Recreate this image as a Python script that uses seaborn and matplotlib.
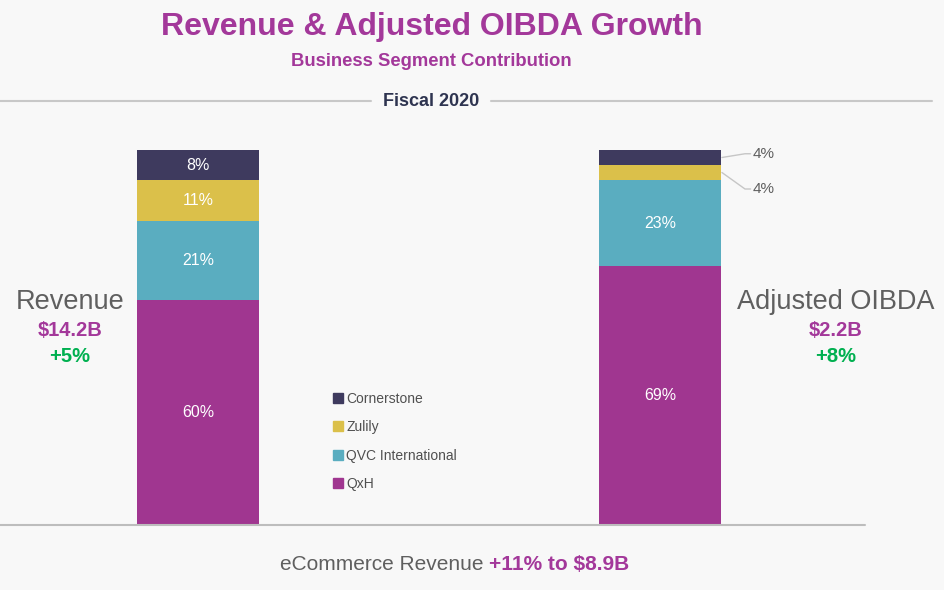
import numpy as np
import pandas as pd
import matplotlib.pyplot as plt
import seaborn as sns
from matplotlib.patches import Patch
from matplotlib.lines import Line2D

# data
bars = ["Revenue", "Adjusted OIBDA"]
segments = ["QxH", "QVC International", "Zulily", "Cornerstone"]
revenue_pct = [60, 21, 11, 8]
oibda_pct = [69, 23, 4, 4]
totals = ["$14.2B", "$2.2B"]
growth = ["+5%", "+8%"]
seg_colors = ["#A03690", "#5AADC0", "#DBC04A", "#3E3A5E"]

purple = "#A3389A"
green = "#00B050"
gray = "#5F5F5F"
bg = "#F8F8F8"

sns.set_style("white")
plt.rcParams["font.family"] = ["Liberation Sans", "DejaVu Sans"]

W, H = 945, 590
fig = plt.figure(figsize=(9.45, 5.9), dpi=100, facecolor=bg)

def fx(px):
    return px / W

def fy(py):
    return 1 - py / H

# axes: bottom at baseline, top at 100%
ax = fig.add_axes([0, fy(525), fx(865), (525 - 150) / H])
ax.set_facecolor(bg)

df = pd.DataFrame({"bar": np.repeat(bars, len(segments)),
                   "segment": segments * 2,
                   "pct": revenue_pct + oibda_pct})
df["cum"] = df.groupby("bar")["pct"].cumsum()

# draw cumulative bars from the top segment down so they stack
bw = 122 / 462
for seg, col in reversed(list(zip(segments, seg_colors))):
    d = df[df["segment"] == seg]
    sns.barplot(data=d, x="bar", y="cum", order=bars, color=col,
                width=bw, saturation=1, ax=ax, linewidth=0)

ax.set_xlim(-198 / 462, (865 - 198) / 462)
ax.set_ylim(0, 100)
ax.set_xlabel("")
ax.set_ylabel("")
ax.set_xticks([])
ax.set_yticks([])
for s in ax.spines.values():
    s.set_visible(False)
ax.axhline(0, color="#BDBDBD", lw=1.5, clip_on=False)

# segment labels
for i, b in enumerate(bars):
    d = df[df["bar"] == b]
    for _, r in d.iterrows():
        yc = r["cum"] - r["pct"] / 2
        if r["pct"] >= 6:
            ax.text(i, yc, f"{r['pct']}%", ha="center", va="center",
                    color="white", fontsize=11.5)

# outside labels for the small OIBDA segments
d = df[df["bar"] == "Adjusted OIBDA"]
small = d[d["pct"] < 6]
edge = 1 + bw / 2
targets = [99.0, 89.6]
for (_, r), ty in zip(small.iloc[::-1].iterrows(), targets):
    yc = r["cum"] - r["pct"] / 2
    ax.plot([edge + 0.002, 1.184, 1.196], [yc, ty, ty], color="#C6C6C6",
            lw=1, clip_on=False)
    ax.text(1.200, ty, f"{r['pct']}%", ha="left", va="center",
            color=gray, fontsize=11)

# side annotations
side_x = [70, 836]
for i in range(2):
    fig.text(fx(side_x[i]), fy(302), bars[i], ha="center", va="center",
             color=gray, fontsize=19.5)
    fig.text(fx(side_x[i]), fy(330), totals[i], ha="center", va="center",
             color=purple, fontsize=14.5, fontweight="bold")
    fig.text(fx(side_x[i]), fy(356), growth[i], ha="center", va="center",
             color=green, fontsize=14.5, fontweight="bold")

# legend
handles = [Patch(color=c, label=s) for s, c in zip(segments, seg_colors)][::-1]
leg = fig.legend(handles=handles, loc="upper left",
                 bbox_to_anchor=(fx(326), fy(385)), frameon=False,
                 fontsize=10, handlelength=0.75, handleheight=0.75,
                 handletextpad=0.2, labelspacing=1.03, borderpad=0)
for t in leg.get_texts():
    t.set_color("#505050")

# titles
fig.text(fx(432), fy(27), "Revenue & Adjusted OIBDA Growth", ha="center",
         va="center", color=purple, fontsize=23, fontweight="bold")
fig.text(fx(431), fy(62), "Business Segment Contribution", ha="center",
         va="center", color=purple, fontsize=13.3, fontweight="bold")
fig.text(fx(431), fy(101), "Fiscal 2020", ha="center", va="center",
         color="#2E3450", fontsize=13, fontweight="bold")
fig.add_artist(Line2D([0, fx(371)], [fy(101), fy(101)], color="#C8C8C8",
                      lw=1.5, transform=fig.transFigure))
fig.add_artist(Line2D([fx(491), fx(932)], [fy(101), fy(101)], color="#C8C8C8",
                      lw=1.5, transform=fig.transFigure))

# footer
t1 = fig.text(fx(280), fy(564), "eCommerce Revenue ", ha="left", va="center",
              color=gray, fontsize=15)
ax.annotate("+11% to $8.9B", xy=(1, 0), xycoords=t1, ha="left",
            va="bottom", color=purple, fontsize=15, fontweight="bold",
            annotation_clip=False)

fig.savefig("out.png", dpi=100, facecolor=bg)
